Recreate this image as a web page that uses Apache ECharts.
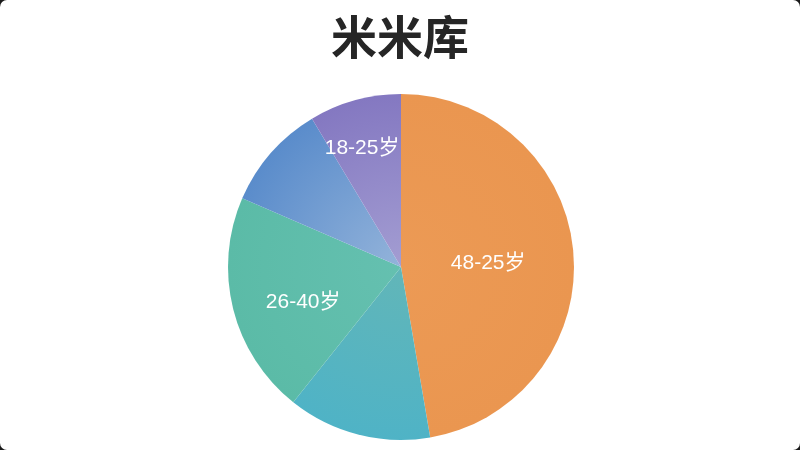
<!DOCTYPE html>
<html lang="zh">

<head>
  <meta charset="UTF-8">
  <title>米米库</title>
  <style>
    html, body { margin: 0; padding: 0; background: #1a1a1a; }
    .card { width: 800px; height: 450px; background: #fff; border-radius: 7px; overflow: hidden; }
    #main { width: 800px; height: 450px; }
  </style>
</head>

<body>
  <div class="card">
    <div id="main"></div>
  </div>
  <script src="https://cdn.jsdelivr.net/npm/echarts@6/dist/echarts.min.js"></script>
  <script>
    // 年龄段（顺时针，从12点钟开始）
    var ageGroups = ['48-25岁', '', '26-40岁', '', '18-25岁'];
    var shares = [47.3, 13.4, 20.8, 9.9, 8.6];
    // 外圈颜色 / 靠近圆心的颜色
    var outerColors = ['#ea9650', '#4fb3c6', '#5bbba7', '#5a8ccb', '#8478c1'];
    var innerColors = ['#ec9a55', '#62b6b8', '#65c0b0', '#93b3da', '#a39dd2'];
    var labelOffsets = [[-2, 4], [0, 0], [-11, 13], [0, 0], [-15, -33]];

    var cx = 401, cy = 267, r = 173;

    var myChart = echarts.init(document.getElementById('main'));

    var pieData = [];
    for (var i = 0; i < shares.length; i++) {
      pieData.push({
        name: ageGroups[i],
        value: shares[i],
        itemStyle: {
          color: {
            type: 'radial', x: cx, y: cy, r: r, global: true,
            colorStops: [
              { offset: 0, color: innerColors[i] },
              { offset: 1, color: outerColors[i] }
            ]
          }
        },
        label: {
          show: ageGroups[i] !== '',
          offset: labelOffsets[i]
        }
      });
    }

    var option = {
      animation: false,
      title: {
        text: '米米库',
        left: 'center',
        top: 9,
        textStyle: {
          fontSize: 46,
          fontWeight: 'bold',
          color: '#262626',
          fontFamily: 'Noto Sans CJK SC'
        }
      },
      series: [{
        type: 'pie',
        center: [cx, cy],
        radius: r,
        startAngle: 90,
        clockwise: true,
        data: pieData,
        label: {
          position: 'inside',
          formatter: '{b}',
          color: '#fff',
          fontSize: 21,
          fontFamily: 'Liberation Sans, Noto Sans CJK SC'
        },
        labelLine: { show: false },
        emphasis: { disabled: true }
      }]
    };
    myChart.setOption(option);
  </script>
</body>

</html>
